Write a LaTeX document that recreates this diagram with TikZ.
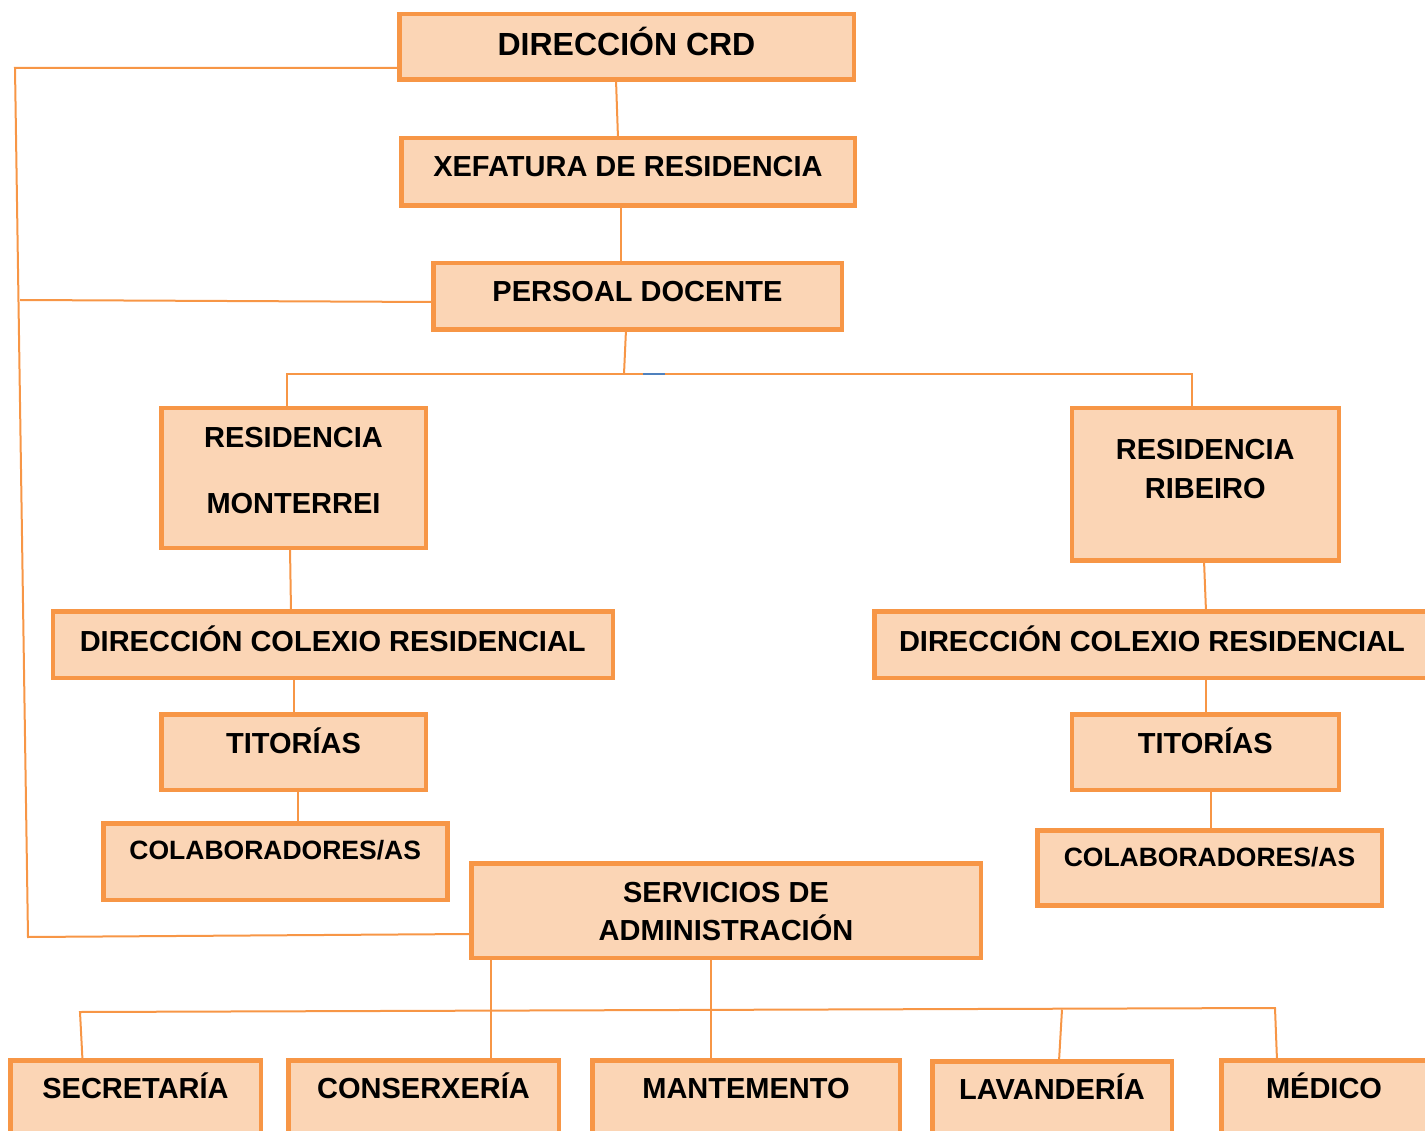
\documentclass[tikz,border=0pt]{standalone}
\usepackage{fontspec}
\setmainfont{Liberation Sans}
\definecolor{boxline}{HTML}{F79646}
\definecolor{boxfill}{HTML}{FBD5B5}
\definecolor{stray}{HTML}{4F81BD}

\begin{document}
\begin{tikzpicture}[x=1pt, y=-1pt,
  box/.style={draw=boxline, fill=boxfill, line width=4.5pt, inner sep=0pt, outer sep=0pt, anchor=north, align=center, font=\bfseries\fontsize{29}{38}\selectfont},
  small/.style={font=\bfseries\fontsize{26.5}{32}\selectfont},
  big/.style={font=\bfseries\fontsize{32}{38}\selectfont},
  th/.style 2 args={text height=#1pt, text depth=#2pt},
  link/.style={draw=boxline, line width=2pt}]
\useasboundingbox (0,0) rectangle (1425,1131);
\clip (0,0) rectangle (1425,1131);
\node[box, big, minimum width=454.5pt, th={41.75}{23.75}] (crd) at (626.5,14.25) {DIRECCIÓN CRD};
\node[box, minimum width=453.5pt, th={38.75}{28.75}] (xef) at (628,138.25) {XEFATURA DE RESIDENCIA};
\node[box, minimum width=408.5pt, th={38.75}{27.75}] (per) at (637.5,263.25) {PERSOAL DOCENTE};
\node[box, minimum width=264.5pt, th={104.75}{34.75}] (mon) at (293.5,408.25) {RESIDENCIA\\[27.5pt]MONTERREI};
\node[box, minimum width=267pt, th={90.35}{61.65}] (rib) at (1205.25,408.25) {RESIDENCIA\\[1.6pt]RIBEIRO};
\node[box, minimum width=560pt, th={39.75}{26.75}] (dcrl) at (332.75,611.25) {DIRECCIÓN COLEXIO RESIDENCIAL};
\node[box, minimum width=555.5pt, th={39.75}{26.75}] (dcrr) at (1152,611.25) {DIRECCIÓN COLEXIO RESIDENCIAL};
\node[box, minimum width=264.5pt, th={38.75}{36.75}] (titl) at (293.5,714.25) {TITORÍAS};
\node[box, minimum width=267pt, th={38.75}{36.75}] (titr) at (1205.25,714.25) {TITORÍAS};
\node[box, small, minimum width=344pt, th={35.75}{40.75}] (coll) at (275.25,823.25) {COLABORADORES/AS};
\node[box, small, minimum width=344.5pt, th={35.75}{39.25}] (colr) at (1209.5,830.25) {COLABORADORES/AS};
\node[box, minimum width=509.5pt, th={76.75}{17.75}] (serv) at (726,863.25) {SERVICIOS DE\\ADMINISTRACIÓN};
\node[box, minimum width=250.5pt, th={37.75}{42}] (sec) at (135.5,1060.25) {SECRETARÍA};
\node[box, minimum width=270.5pt, th={37.75}{42}] (con) at (423.5,1060.25) {CONSERXERÍA};
\node[box, minimum width=307.5pt, th={37.75}{42}] (man) at (746,1060.25) {MANTEMENTO};
\node[box, minimum width=239.5pt, th={37.75}{42}] (lav) at (1052,1061.25) {LAVANDERÍA};
\node[box, minimum width=205.5pt, th={37.75}{42}] (med) at (1324,1060.25) {MÉDICO};
\coordinate (pd) at (624,374);
\coordinate (lt) at (15,68);
\coordinate (lm) at (20,300);
\coordinate (lb) at (28,937);
\coordinate (sb) at (80,1012);
\coordinate (mb) at (1275,1008);
\draw[link] ([xshift=-10.5pt]crd.south) -- ([xshift=-10pt]xef.north);
\draw[link] ([xshift=-7pt]xef.south) -- ([xshift=-16.5pt]per.north);
\draw[link] ([xshift=-11.5pt]per.south) -- (pd);
\draw[link] ([xshift=-6.5pt]mon.north) |- (pd) -| ([xshift=-13.25pt]rib.north);
\draw[stray, line width=2pt] ([xshift=19pt]pd) -- ([xshift=41pt]pd);
\draw[link] ([xshift=-3.5pt]mon.south) -- ([xshift=-41.75pt]dcrl.north);
\draw[link] ([xshift=0.5pt]titl.north) -- ([xshift=0.5pt]titl.north |- dcrl.south);
\draw[link] ([xshift=4.5pt]titl.south) -- ([xshift=22.75pt]coll.north);
\draw[link] ([xshift=-1.25pt]rib.south) -- ([xshift=54pt]dcrr.north);
\draw[link] ([xshift=0.75pt]titr.north) -- ([xshift=0.75pt]titr.north |- dcrr.south);
\draw[link] ([xshift=5.75pt]titr.south) -- ([xshift=1.5pt]colr.north);
\draw[link] ([yshift=-21pt]crd.west) -- (lt) -- (lb) -- ([yshift=-23.5pt]serv.west);
\draw[link] (lm) -- ([yshift=-5.5pt]per.west);
\draw[link] ([xshift=67.5pt]con.north) -- ([xshift=67.5pt]con.north |- serv.south);
\draw[link] ([xshift=-35pt]man.north) -- ([xshift=-35pt]man.north |- serv.south);
\draw[link] ([xshift=-53pt]sec.north) -- (sb) -- (mb) -- ([xshift=-47pt]med.north);
\draw[link] ([xshift=7pt]lav.north) -- ++(3,-51.75);
\end{tikzpicture}
\end{document}
